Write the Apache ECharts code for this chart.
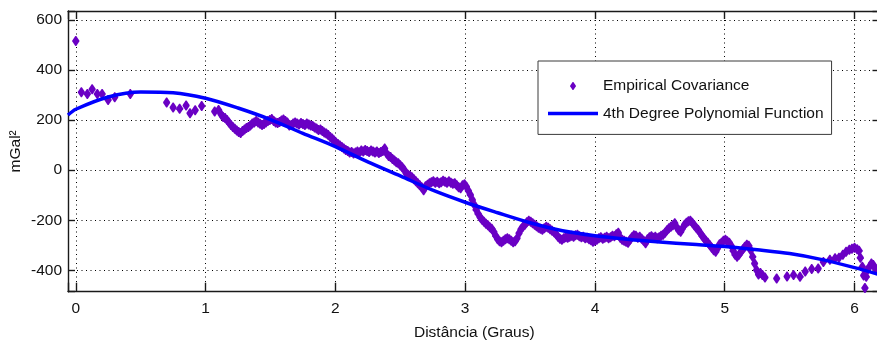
<!DOCTYPE html>
<html>
<head>
<meta charset="utf-8">
<script src="https://cdn.jsdelivr.net/npm/echarts@6/dist/echarts.min.js"></script>
<style>
html,body{margin:0;padding:0;background:#fff;}
#chart{width:877px;height:344px;}
</style>
</head>
<body>
<div id="chart"></div>
<script>
// ---- data ----
const xTicks = [0, 1, 2, 3, 4, 5, 6];
const yTicks = [-400, -200, 0, 200, 400, 600];

// Empirical covariance: isolated points near the origin
const empiricalStart = [
  [0.00, 515], [0.043, 311], [0.089, 304], [0.126, 323], [0.166, 304], [0.203, 304],
  [0.249, 280], [0.30, 291], [0.42, 304], [0.70, 270], [0.75, 250], [0.80, 245],
  [0.85, 258], [0.88, 227], [0.92, 239], [0.97, 256], [1.07, 234]
];
// Empirical covariance: dense band
const empiricalBand = [
  [1.10,240],[1.12,222],[1.135,212],[1.15,208],[1.165,200],[1.18,190],[1.195,180],[1.21,172],
  [1.225,165],[1.24,158],[1.255,152],[1.27,148],[1.285,156],[1.30,162],[1.315,168],[1.33,172],
  [1.345,178],[1.36,186],[1.375,190],[1.39,196],[1.405,190],[1.42,185],[1.435,180],[1.45,184],
  [1.465,190],[1.48,196],[1.495,200],[1.51,204],[1.525,196],[1.54,190],[1.555,188],[1.57,192],
  [1.585,198],[1.60,202],[1.615,196],[1.63,190],[1.645,178],[1.66,180],[1.675,186],[1.69,190],
  [1.705,186],[1.72,182],[1.735,188],[1.75,184],[1.765,180],[1.78,186],[1.795,182],[1.81,178],
  [1.825,176],[1.84,170],[1.855,166],[1.87,160],[1.885,162],[1.90,156],[1.915,150],[1.93,146],
  [1.945,140],[1.96,132],[1.975,126],[1.99,118],[2.005,110],[2.02,104],[2.035,98],[2.05,92],
  [2.065,86],[2.08,80],[2.095,76],[2.11,70],[2.125,72],[2.14,66],[2.155,70],[2.17,74],
  [2.185,70],[2.20,78],[2.215,74],[2.23,80],[2.245,76],[2.26,72],[2.275,78],[2.29,74],
  [2.305,70],[2.32,74],[2.335,68],[2.35,72],[2.365,76],[2.38,86],[2.395,66],[2.41,56],
  [2.425,52],[2.44,44],[2.455,38],[2.47,32],[2.485,28],[2.50,20],[2.515,12],[2.53,2],
  [2.545,-12],[2.56,-18],[2.575,-22],[2.59,-28],[2.605,-36],[2.62,-44],[2.635,-52],[2.65,-60],
  [2.665,-68],[2.68,-80],[2.695,-64],[2.71,-58],[2.725,-52],[2.74,-48],[2.755,-44],[2.77,-50],
  [2.785,-46],[2.80,-52],[2.815,-48],[2.83,-42],[2.845,-46],[2.86,-50],[2.875,-44],[2.89,-50],
  [2.905,-54],[2.92,-52],[2.935,-60],[2.95,-68],[2.965,-72],[2.98,-60],[2.995,-56],[3.01,-66],
  [3.025,-82],[3.04,-98],[3.055,-118],[3.07,-138],[3.085,-158],[3.10,-174],[3.115,-188],[3.13,-198],
  [3.145,-206],[3.16,-214],[3.175,-220],[3.19,-228],[3.205,-234],[3.22,-246],[3.235,-262],[3.25,-276],
  [3.265,-284],[3.28,-288],[3.295,-282],[3.31,-276],[3.325,-272],[3.34,-276],[3.355,-282],[3.37,-288],
  [3.385,-284],[3.40,-272],[3.415,-252],[3.43,-236],[3.445,-226],[3.46,-218],[3.475,-208],[3.49,-202],
  [3.505,-206],[3.52,-212],[3.535,-218],[3.55,-224],[3.565,-230],[3.58,-234],[3.595,-238],[3.61,-232],
  [3.625,-226],[3.64,-230],[3.655,-236],[3.67,-242],[3.685,-248],[3.70,-256],[3.715,-266],[3.73,-274],
  [3.745,-278],[3.76,-272],[3.775,-268],[3.79,-270],[3.805,-266],[3.82,-262],[3.835,-266],[3.85,-260],
  [3.865,-258],[3.88,-264],[3.895,-268],[3.91,-266],[3.925,-272],[3.94,-270],[3.955,-276],[3.97,-280],
  [3.985,-286],[4.00,-282],[4.015,-278],[4.03,-272],[4.045,-268],[4.06,-274],[4.075,-270],[4.09,-266],
  [4.105,-272],[4.12,-268],[4.135,-262],[4.15,-264],[4.165,-256],[4.18,-250],[4.195,-270],[4.21,-278],
  [4.225,-282],[4.24,-286],[4.255,-290],[4.27,-278],[4.285,-268],[4.30,-260],[4.315,-262],[4.33,-270],
  [4.345,-266],[4.36,-274],[4.375,-282],[4.39,-292],[4.405,-276],[4.42,-268],[4.435,-264],[4.45,-270],
  [4.465,-266],[4.48,-272],[4.495,-268],[4.51,-262],[4.525,-258],[4.54,-250],[4.555,-240],[4.57,-232],
  [4.585,-226],[4.60,-220],[4.615,-212],[4.63,-228],[4.645,-240],[4.66,-246],[4.675,-232],[4.69,-218],
  [4.705,-210],[4.72,-204],[4.735,-202],[4.75,-210],[4.765,-220],[4.78,-230],[4.795,-238],[4.81,-250],
  [4.825,-262],[4.84,-272],[4.855,-282],[4.87,-290],[4.885,-300],[4.90,-310],[4.915,-320],[4.93,-326],
  [4.945,-312],[4.96,-296],[4.975,-290],[4.99,-282],[5.005,-278],[5.02,-284],[5.035,-290],[5.05,-302],
  [5.065,-322],[5.08,-338],[5.095,-346],[5.11,-338],[5.125,-326],[5.14,-316],[5.155,-306],[5.17,-298],
  [5.185,-302],[5.20,-320],[5.215,-346],[5.23,-372],[5.245,-398],[5.26,-416],[5.275,-410],[5.29,-418],
  [5.31,-428]
];
// Empirical covariance: sparse tail
const empiricalTail = [
  [5.40,-432],[5.48,-424],[5.53,-418],[5.58,-425],[5.62,-404],[5.67,-394],[5.72,-392],[5.76,-366],
  [5.81,-358],[5.85,-352],[5.88,-350],[5.91,-338],[5.935,-326],[5.96,-318],[5.98,-314],[6.00,-310],
  [6.02,-316],[6.035,-322],[6.045,-350],[6.06,-385],[6.07,-420],[6.08,-470],[6.09,-425],[6.10,-398],
  [6.115,-385],[6.13,-372],[6.145,-378],[6.16,-392]
];

// 4th degree polynomial function
const polyX = [-0.06, 0, 0.25, 0.5, 0.75, 1.0, 1.25, 1.5, 1.75, 2.0, 2.25, 2.5, 2.75, 3.0,
               3.25, 3.5, 3.75, 4.0, 4.25, 4.5, 4.75, 5.0, 5.25, 5.5, 5.75, 6.0, 6.2];
const polyY = [220, 243, 292, 312, 309, 287, 248, 202, 147, 94, 33, -23, -80, -128,
               -170, -210, -242, -262, -276, -287, -296, -305, -318, -333, -357, -389, -418];

const seriesNames = ['Empirical Covariance', '4th Degree Polynomial Function'];
const xName = 'Distância (Graus)';
const yName = 'mGal²';

// ---- chart ----
const FONT = "'Liberation Sans', Arial, sans-serif";
const TXT = '#111';
const MARKER = 'path://M3,0 L4,0 L7,4.5 L7,5.5 L4,10 L3,10 L0,5.5 L0,4.5 Z';
const chart = echarts.init(document.getElementById('chart'), null, {renderer: 'canvas'});

const empirical = empiricalStart.concat(empiricalBand, empiricalTail);
const polyData = polyX.map((x, i) => [x, polyY[i]]);

const X_MIN = -0.06, X_MAX = 6.2, Y_MIN = -485, Y_MAX = 635;
const dotted = {show: true, lineStyle: {color: '#000', width: 1, type: [1, 3.5]}};
const axisLineStyle = {show: true, onZero: false, lineStyle: {color: '#1a1a1a', width: 1.4}};
const tickStyle = {color: '#1a1a1a', width: 1.4};

chart.setOption({
  animation: false,
  backgroundColor: '#fff',
  grid: {left: 68, top: 11, width: 812.5, height: 280.7, containLabel: false, outerBoundsMode: 'none'},
  legend: {
    orient: 'vertical',
    left: 538, top: 61,
    padding: [14, 8, 10, 10],
    itemWidth: 50, itemHeight: 8, itemGap: 5.4,
    backgroundColor: '#fff',
    borderColor: '#3a3a3a', borderWidth: 1, borderRadius: 0,
    textStyle: {fontFamily: FONT, fontSize: 15.5, color: TXT, lineHeight: 22},
    data: [
      {name: seriesNames[0], icon: MARKER},
      {name: seriesNames[1], icon: 'path://M0,0 L50,0 L50,3.5 L0,3.5 Z'}
    ]
  },
  xAxis: [{
    type: 'value', min: X_MIN, max: X_MAX, position: 'bottom',
    name: xName, nameLocation: 'middle', nameGap: 33, nameMoveOverlap: false,
    nameTextStyle: {fontFamily: FONT, fontSize: 15.5, color: TXT},
    axisLine: axisLineStyle,
    axisTick: {show: true, inside: true, length: 9, lineStyle: tickStyle},
    axisLabel: {fontFamily: FONT, fontSize: 15.5, color: TXT, margin: 9,
      formatter: v => (xTicks.some(t => Math.abs(t - v) < 1e-6) ? String(v) : '')},
    splitLine: dotted
  }, {
    type: 'value', min: X_MIN, max: X_MAX, position: 'top',
    axisLine: axisLineStyle,
    axisTick: {show: true, inside: true, length: 8, lineStyle: tickStyle},
    axisLabel: {show: false}, splitLine: {show: false}
  }],
  yAxis: [{
    type: 'value', min: Y_MIN, max: Y_MAX, position: 'left',
    name: yName, nameLocation: 'middle', nameGap: 44, nameMoveOverlap: false,
    nameTextStyle: {fontFamily: FONT, fontSize: 15.5, color: TXT},
    axisLine: axisLineStyle,
    axisTick: {show: true, inside: true, length: 7, lineStyle: tickStyle},
    axisLabel: {fontFamily: FONT, fontSize: 15.5, color: TXT, margin: 6,
      formatter: v => (yTicks.some(t => Math.abs(t - v) < 1e-6) ? String(v) : '')},
    splitLine: dotted
  }, {
    type: 'value', min: Y_MIN, max: Y_MAX, position: 'right',
    axisLine: axisLineStyle,
    axisTick: {show: true, inside: true, length: 8, lineStyle: tickStyle},
    axisLabel: {show: false}, splitLine: {show: false}
  }],
  series: [{
    name: seriesNames[0], type: 'scatter', data: empirical,
    symbol: MARKER, symbolSize: [7, 10], symbolKeepAspect: false,
    itemStyle: {color: '#6a00c4', opacity: 1},
    z: 2, silent: true
  }, {
    name: seriesNames[1], type: 'line', data: polyData,
    smooth: 0.3, symbol: 'none', showSymbol: false,
    lineStyle: {color: '#0000ff', width: 3.5},
    itemStyle: {color: '#0000ff'},
    z: 3, silent: true
  }]
});
</script>
</body>
</html>
